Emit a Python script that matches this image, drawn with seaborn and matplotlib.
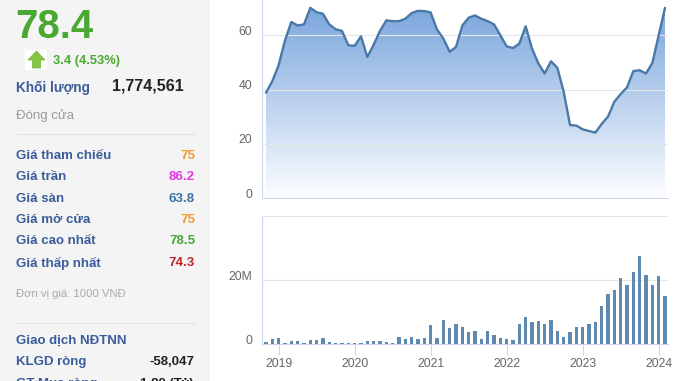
import numpy as np
import pandas as pd
import matplotlib
matplotlib.use("Agg")
import matplotlib.pyplot as plt
import seaborn as sns
from matplotlib.colors import LinearSegmentedColormap
from matplotlib.patches import Polygon, Rectangle
from matplotlib.transforms import ScaledTranslation

# ---------------- data ----------------
months = pd.date_range("2018-11-01", "2024-02-01", freq="MS")
price = [38.8, 43.1, 49.0, 58.1, 64.9, 63.6, 64.0, 70.1, 68.5, 67.9, 64.0, 62.2,
         61.6, 56.3, 56.1, 59.6, 52.0, 56.5, 61.6, 65.5, 65.2, 65.2, 66.1, 68.2,
         69.0, 68.9, 68.4, 62.1, 58.8, 53.9, 55.7, 63.6, 66.5, 67.3, 66.1, 65.2,
         64.0, 60.0, 55.9, 55.3, 56.9, 63.3, 55.1, 49.6, 45.9, 50.4, 48.0, 39.2,
         26.9, 26.7, 25.3, 24.7, 24.1, 27.3, 30.0, 35.5, 38.3, 40.8, 46.8, 47.1,
         45.9, 49.8, 60.0, 70.1]
volume_m = [0.6, 1.6, 2.0, 0.2, 0.9, 0.9, 0.2, 1.3, 1.3, 2.0, 0.6, 0.2,
            0.2, 0.2, 0.2, 0.2, 0.9, 0.9, 0.9, 0.6, 0.2, 2.3, 1.7, 2.3,
            1.7, 2.0, 5.9, 2.0, 7.5, 4.9, 6.2, 5.2, 3.9, 4.2, 1.7, 4.2,
            2.9, 2.0, 1.7, 1.4, 6.2, 8.4, 6.8, 7.1, 6.2, 7.4, 4.2, 2.3,
            3.6, 5.2, 5.2, 6.2, 6.8, 11.9, 15.5, 16.8, 20.6, 18.3, 22.6, 27.4,
            21.6, 18.3, 21.3, 14.9]
year_labels = ["2019", "2020", "2021", "2022", "2023", "2024"]
price_ticks = [0, 20, 40, 60]
vol_tick_labels = ["0", "20M"]

info_labels = ["Giá tham chiếu", "Giá trần", "Giá sàn", "Giá mở cửa", "Giá cao nhất", "Giá thấp nhất"]
info_values = ["75", "86.2", "63.8", "75", "78.5", "74.3"]
info_colors = ["#f39a30", "#e535e5", "#3f72a8", "#f39a30", "#45a534", "#c1272d"]

# ---------------- setup ----------------
sns.set_theme(style="white")
plt.rcParams["font.family"] = ["Liberation Sans", "DejaVu Sans"]

W, H = 678, 381
fig = plt.figure(figsize=(W / 100, H / 100), dpi=100)

def fx(x):
    return x / W

def fy(y):
    return 1 - y / H

# left info panel
fig.patches.append(Rectangle((0, 0), fx(210), 1, transform=fig.transFigure,
                             facecolor="#f4f4f4", edgecolor="none", zorder=0))

BLUE = "#3a5d9a"
def T(x, y, s, va="center", **kw):
    fig.text(fx(x), fy(y), s, va=va, **kw)

T(15, 38, "78.4", va="baseline", fontsize=29, fontweight="bold", color="#49a832")
# up arrow icon
fig.patches.append(Rectangle((fx(25), fy(70)), fx(22), 20 / H, transform=fig.transFigure,
                             facecolor="white", edgecolor="none", zorder=1))
arrow = [(28, 60), (36.5, 51), (45, 60), (40.5, 60), (40.5, 68), (32.5, 68), (32.5, 60)]
fig.patches.append(Polygon([(fx(a), fy(b)) for a, b in arrow], closed=True,
                           transform=fig.transFigure, facecolor="#86c441",
                           edgecolor="#74b235", lw=0.5, zorder=2))
T(53, 61, "3.4 (4.53%)", fontsize=9.3, fontweight="bold", color="#49a832")
T(16, 88, "Khối lượng", fontsize=9.8, fontweight="bold", color=BLUE)
T(184, 86, "1,774,561", fontsize=11.5, fontweight="bold", color="#222222", ha="right")
T(16, 116, "Đóng cửa", fontsize=9.5, color="#9a9a9a")
fig.lines.append(plt.Line2D([fx(16), fx(195)], [fy(134), fy(134)], transform=fig.transFigure,
                            color="#e4e4e4", lw=0.8))
ys = [156, 177, 198.5, 220, 241.5, 263]
for y, lab, val, col in zip(ys, info_labels, info_values, info_colors):
    T(16, y, lab, fontsize=9.5, fontweight="bold", color=BLUE)
    T(195, y, val, fontsize=9.6, fontweight="bold", color=col, ha="right")
T(16, 294, "Đơn vị giá: 1000 VNĐ", fontsize=8.1, color="#aaaaaa")
fig.lines.append(plt.Line2D([fx(16), fx(195)], [fy(323), fy(323)], transform=fig.transFigure,
                            color="#e4e4e4", lw=0.8))
T(16, 341, "Giao dịch NĐTNN", fontsize=9.5, fontweight="bold", color=BLUE)
T(16, 362, "KLGD ròng", fontsize=9.5, fontweight="bold", color=BLUE)
T(194, 362, "-58,047", fontsize=9.5, fontweight="bold", color="#222222", ha="right")
T(16, 384, "GT Mua ròng", fontsize=9.5, fontweight="bold", color=BLUE)
T(194, 384, "1.80 (Tỷ)", fontsize=9.5, fontweight="bold", color="#222222", ha="right")

# ---------------- charts ----------------
idx = np.arange(len(months))
xmin, xmax = -0.63, len(months) - 1 + 0.47
AXC = "#ccd6eb"
GRID = "#e6e6e6"
LAB = "#666666"

ax1 = fig.add_axes([fx(262), fy(198), fx(668) - fx(262), 198 / H])
ax2 = fig.add_axes([fx(262), fy(344), fx(668) - fx(262), (344 - 216) / H])

df = pd.DataFrame({"i": idx, "price": price, "vol": np.array(volume_m) * 1e6})

# price area
ymax1 = 73
poly = ax1.fill_between(df["i"], df["price"], 0, color="none", lw=0)
path = poly.get_paths()[0]
cmap = LinearSegmentedColormap.from_list("g", ["#fcfdff", "#76a3dc"])
grad = np.linspace(1, 0, 256).reshape(-1, 1)
im = ax1.imshow(grad, extent=[xmin, xmax, 0, ymax1], aspect="auto", cmap=cmap,
                origin="upper", zorder=1, interpolation="bilinear")
im.set_clip_path(path, transform=ax1.transData)
sns.lineplot(data=df, x="i", y="price", ax=ax1, color="#4a79a7", lw=1.7, zorder=3)
ax1.set_xlim(xmin, xmax)
ax1.set_ylim(0, ymax1)
ax1.set_yticks(price_ticks)
ax1.set_yticklabels([str(t) for t in price_ticks])
for t in price_ticks[1:]:
    ax1.axhline(t, color=GRID, lw=0.8, zorder=2)
ax1.set_xticks([])

# volume bars
sns.barplot(data=df, x="i", y="vol", ax=ax2, color="#6089b0", width=0.5,
            native_scale=True, saturation=1, edgecolor="none", zorder=3)
ax2.set_xlim(xmin, xmax)
ax2.set_ylim(0, 40e6)
ax2.set_yticks([0, 20e6])
ax2.set_yticklabels(vol_tick_labels)
ax2.axhline(20e6, color=GRID, lw=0.8, zorder=1)
ax2.axhline(40e6, color=GRID, lw=1.6, zorder=1)
year_pos = [idx[(months.year == int(y)) & (months.month == 1)][0] for y in year_labels]
ax2.set_xticks(year_pos)
ax2.set_xticklabels(year_labels)

for ax in (ax1, ax2):
    ax.set_xlabel("")
    ax.set_ylabel("")
    ax.set_facecolor("none")
    for s in ("top", "right"):
        ax.spines[s].set_visible(False)
    for s in ("left", "bottom"):
        ax.spines[s].set_visible(True)
        ax.spines[s].set_color(AXC)
        ax.spines[s].set_linewidth(0.8)
    ax.tick_params(axis="y", length=0, pad=7, labelsize=8.7, labelcolor=LAB)
    for lab in ax.get_yticklabels():
        lab.set_transform(lab.get_transform() + ScaledTranslation(0, 5 / 100, fig.dpi_scale_trans))

ax2.tick_params(axis="x", length=8, width=0.8, color=AXC, pad=2, labelsize=8.8,
                labelcolor=LAB, bottom=True)

fig.savefig("out.png", dpi=100)
